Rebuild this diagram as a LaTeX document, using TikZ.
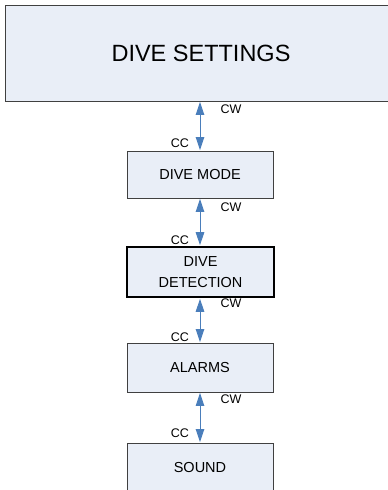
\documentclass[tikz,border=0pt]{standalone}
\usepackage{fontspec}
\setmainfont{Liberation Sans}
\usetikzlibrary{arrows.meta}
\definecolor{boxfill}{RGB}{233,238,247}
\definecolor{boxline}{RGB}{64,64,64}
\definecolor{arrowblue}{RGB}{74,126,187}
\tikzset{
  menubox/.style={draw=boxline, fill=boxfill, line width=0.8pt, rectangle, inner sep=0pt, align=center, font=\fontsize{14.5}{21}\selectfont},
  biarrow/.style={draw=arrowblue, line width=1pt, {Triangle[length=13pt,width=8.5pt]}-{Triangle[length=13pt,width=8.5pt]}, shorten <=0.5pt, shorten >=0.5pt},
  lbl/.style={inner sep=0pt, font=\fontsize{12.5}{14}\selectfont}
}
\begin{document}
\begin{tikzpicture}[x=1pt,y=-1pt]
\useasboundingbox (0,0) rectangle (388,490);
\clip (0,0) rectangle (388,490);
\node[menubox, minimum width=392pt, minimum height=96pt, font=\fontsize{23.5}{28}\selectfont] (settings) at (201,53) {DIVE SETTINGS};
\node[menubox, minimum width=146pt, minimum height=47pt] (mode) at (200,174.5) {DIVE MODE};
\node[menubox, minimum width=147pt, minimum height=50pt, line width=2.6pt, draw=black] (detect) at (200.5,272) {DIVE\\DETECTION};
\node[menubox, minimum width=146pt, minimum height=49pt] (alarms) at (200,367.5) {ALARMS};
\node[menubox, minimum width=146pt, minimum height=50pt] (sound) at (200,468) {SOUND};
\draw[biarrow] (settings.south -| mode.north) -- (mode.north);
\draw[biarrow] (mode.south) -- (mode.south |- detect.north);
\draw[biarrow] (detect.south -| alarms.north) -- (alarms.north);
\draw[biarrow] (alarms.south) -- (sound.north -| alarms.south);
\node[lbl] (cw1) at (231,109) {CW};
\node[lbl] (cc1) at (180,143) {CC};
\node[lbl] (cw2) at (231,207) {CW};
\node[lbl] (cc2) at (180,240) {CC};
\node[lbl] (cw3) at (231,303) {CW};
\node[lbl] (cc3) at (180,337) {CC};
\node[lbl] (cw4) at (231,399) {CW};
\node[lbl] (cc4) at (180,433) {CC};
\end{tikzpicture}
\end{document}
